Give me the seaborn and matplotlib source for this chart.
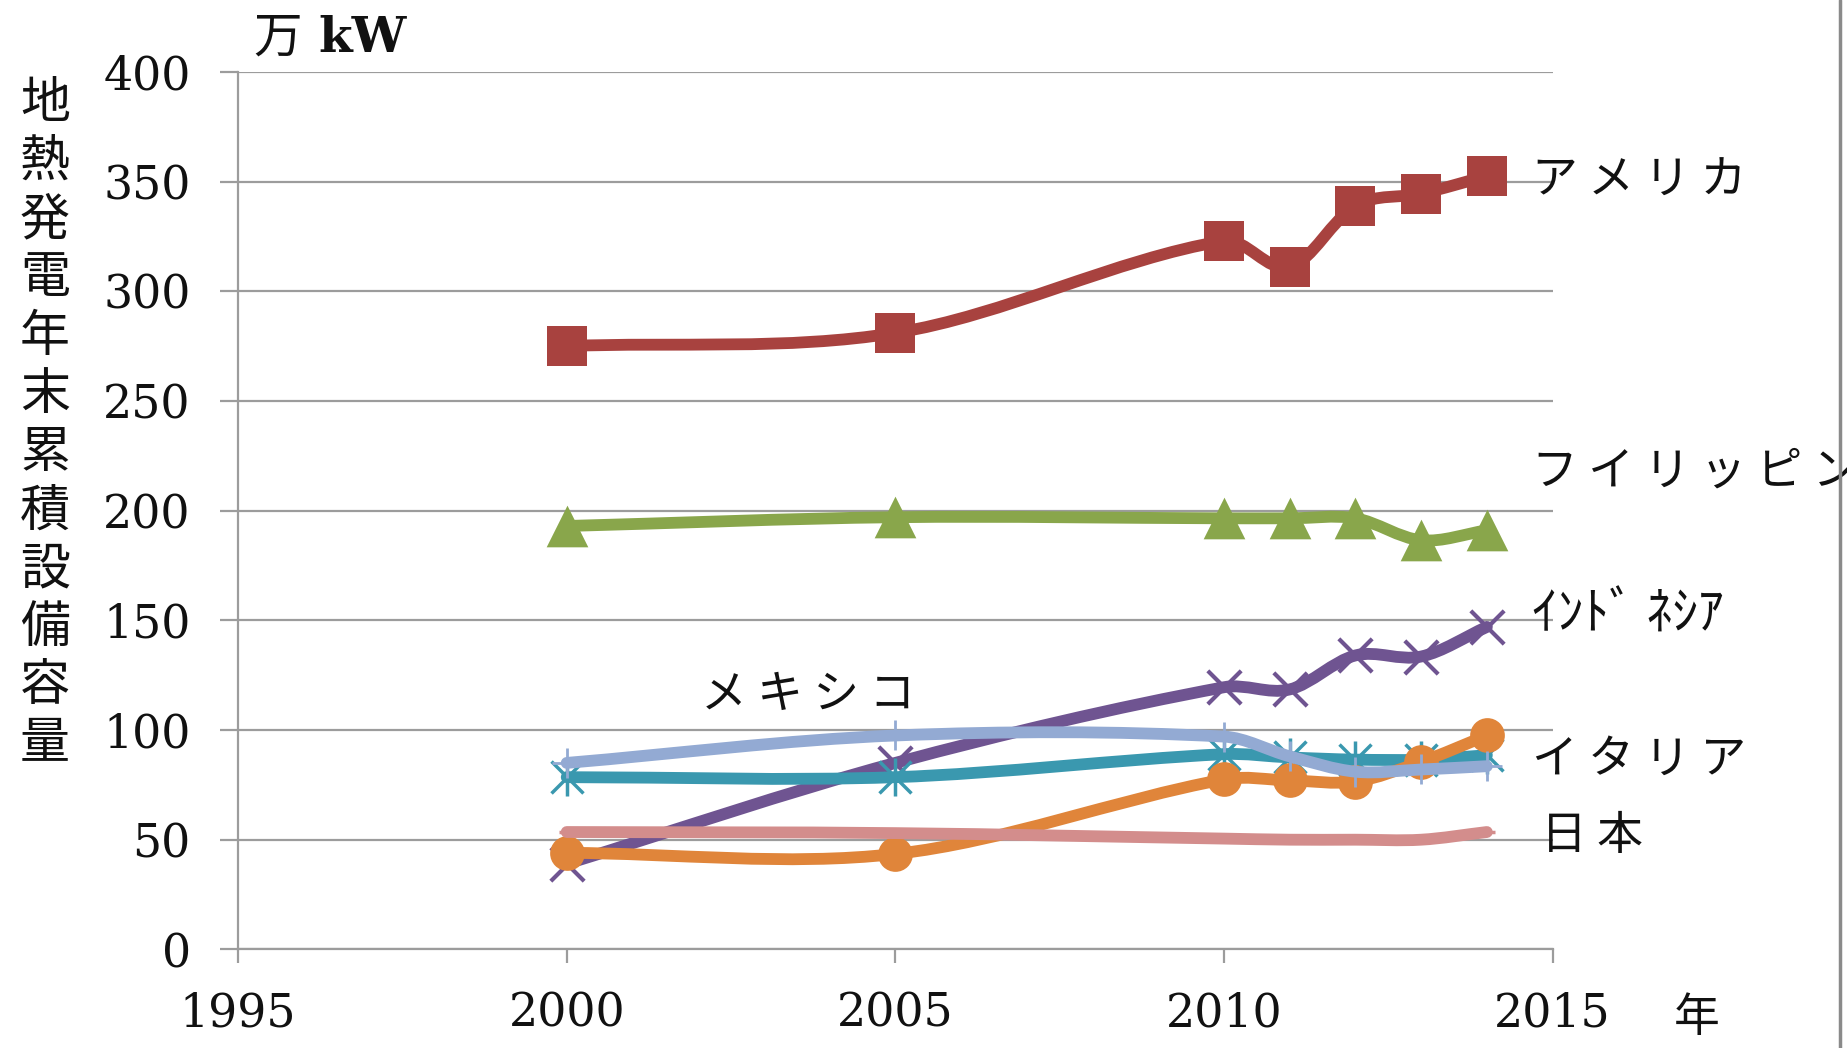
import numpy as np
import matplotlib
matplotlib.use("Agg")
import matplotlib.pyplot as plt
import seaborn as sns
from matplotlib.path import Path
from matplotlib.patches import PathPatch
from matplotlib.lines import Line2D

# Year-end cumulative geothermal capacity (10,000 kW)
years = [2000, 2005, 2010, 2011, 2012, 2013, 2014]
usa = [275, 281, 323, 311, 339, 344.5, 352.5]
philippines = [193, 197, 196.5, 196.5, 196.5, 186.5, 191]
indonesia = [39, 85, 119.5, 118.5, 134, 133.5, 147]
italy = [78.5, 78.5, 89, 87.5, 86.5, 86.5, 88.5]
new_zealand = [44, 43.5, 77.5, 77, 76.5, 85.5, 97.5]
mexico = [85, 97.5, 97, 88, 81, 82, 83.5]
japan = [53.5, 53, 50.5, 50, 50, 50, 53.5]

x_ticks = [1995, 2000, 2005, 2010, 2015]
y_ticks = [0, 50, 100, 150, 200, 250, 300, 350, 400]

ylabel_text = "地熱発電年末累積設備容量"
unit_jp = "万"
unit_en = "kW"
year_text = "年"

sns.set_style("white")
plt.rcParams["font.family"] = ["DejaVu Serif", "Noto Sans CJK JP"]
JP = ["Noto Sans CJK JP", "DejaVu Sans"]

GRID = "#9c9c9c"
INK = "#111111"

fig = plt.figure(figsize=(18.47, 10.48), dpi=100)
ax = fig.add_axes([0.1289, 0.0941, 0.8406 - 0.1289, 0.9314 - 0.0941])
ax.set_xlim(1995, 2015)
ax.set_ylim(0, 400)
ax.set_xticks(x_ticks)
ax.set_yticks(y_ticks)
ax.grid(axis="y", color=GRID, lw=1.6)
ax.grid(axis="x", visible=False)
for side in ("top", "right"):
    ax.spines[side].set_visible(False)
for side in ("left", "bottom"):
    ax.spines[side].set_color(GRID)
    ax.spines[side].set_linewidth(1.6)
ax.tick_params(axis="y", direction="out", length=13, width=1.6, color=GRID,
               labelsize=33, pad=21, left=True, labelcolor=INK)
ax.tick_params(axis="x", direction="out", length=10, width=1.6, color=GRID,
               labelsize=33, pad=20, bottom=True, labelcolor=INK)
ax.set_axisbelow(True)


def smooth_path(xs, ys):
    """Piecewise cubic Bezier through the points (smoothed line)."""
    xs = np.asarray(xs, float)
    ys = np.asarray(ys, float)
    n = len(xs)
    d = np.diff(xs)
    m = np.zeros(n)
    for i in range(n):
        if i == 0:
            m[i] = (ys[1] - ys[0]) / d[0]
        elif i == n - 1:
            m[i] = (ys[-1] - ys[-2]) / d[-1]
        else:
            m[i] = (ys[i + 1] - ys[i - 1]) / (xs[i + 1] - xs[i - 1])
    verts = [(xs[0], ys[0])]
    codes = [Path.MOVETO]
    for i in range(n - 1):
        h = d[i] / 3
        verts += [(xs[i] + h, ys[i] + m[i] * h),
                  (xs[i + 1] - h, ys[i + 1] - m[i + 1] * h),
                  (xs[i + 1], ys[i + 1])]
        codes += [Path.CURVE4] * 3
    return Path(verts, codes)


series = [
    (usa, "#a8423f", [dict(marker="s", s=29 ** 2, linewidth=0)]),
    (philippines, "#89a64b", [dict(marker="^", s=30 ** 2, linewidth=0)]),
    (indonesia, "#6f5491", [dict(marker="x", s=24 ** 2, linewidth=3)]),
    (italy, "#3a98af", [dict(marker="x", s=23 ** 2, linewidth=2.5),
                        dict(marker="|", s=27 ** 2, linewidth=2.5)]),
    (new_zealand, "#e0853a", [dict(marker="o", s=25 ** 2, linewidth=0)]),
    (mexico, "#93aad3", [dict(marker="+", s=22 ** 2, linewidth=2)]),
    (japan, "#d38d8c", [dict(marker="_", s=12 ** 2, linewidth=2.5)]),
]

for k, (vals, col, mks) in enumerate(series):
    z = 3 + 2 * k
    ax.add_patch(PathPatch(smooth_path(years, vals), transform=ax.transData,
                           facecolor="none", edgecolor=col, lw=8.5,
                           capstyle="round", joinstyle="round", zorder=z))
    for mk in mks:
        kw = dict(mk)
        if kw["marker"] in ("s", "^", "o"):
            kw["edgecolor"] = col
        sns.scatterplot(x=years, y=vals, color=col, ax=ax, legend=False,
                        zorder=z + 1, clip_on=False, **kw)

ax.set_xlabel("")
ax.set_ylabel("")

# series labels
label_kw = dict(family=JP, fontsize=33, ha="left", va="center", clip_on=False,
                color=INK)
ax.text(2014.68, 350.5, "ア メ リ カ", **label_kw)
ax.text(2014.68, 218, "フ イ リ ッ ピ ン", **label_kw)
ax.text(2014.68, 152.5, "ｲﾝﾄﾞ ﾈｼｱ", **{**label_kw, "fontsize": 37})
ax.text(2014.68, 86.4, "イ タ リ ア", **label_kw)
ax.text(2014.83, 51.7, "日 本", **label_kw)
ax.text(2002.05, 116, "メ キ シ コ", **label_kw)

# unit, axis title and year suffix
W, H = 1847, 1048
fig.text(253 / W, 1 - 38 / H, unit_jp, family=JP,
         fontsize=35, ha="left", va="center", color=INK)
fig.text(318 / W, 1 - 38 / H, unit_en, family=["DejaVu Serif"], weight="bold",
         fontsize=35, ha="left", va="center", color=INK)
fig.text(1697 / W, 1 - 1018 / H, year_text, family=JP, fontsize=33,
         ha="center", va="center", color=INK)
n = len(ylabel_text)
y0, y1 = 103.7, 744.5
for i, ch in enumerate(ylabel_text):
    yy = y0 + (y1 - y0) * i / (n - 1)
    fig.text(45 / W, 1 - yy / H, ch, family=JP, fontsize=36,
             ha="center", va="center", color=INK)

# right-hand frame edge
fig.add_artist(Line2D([1840 / W, 1840 / W], [0, 1], transform=fig.transFigure,
                      color="#8a8a8a", lw=2.5))

fig.savefig("out.png", dpi=100)
